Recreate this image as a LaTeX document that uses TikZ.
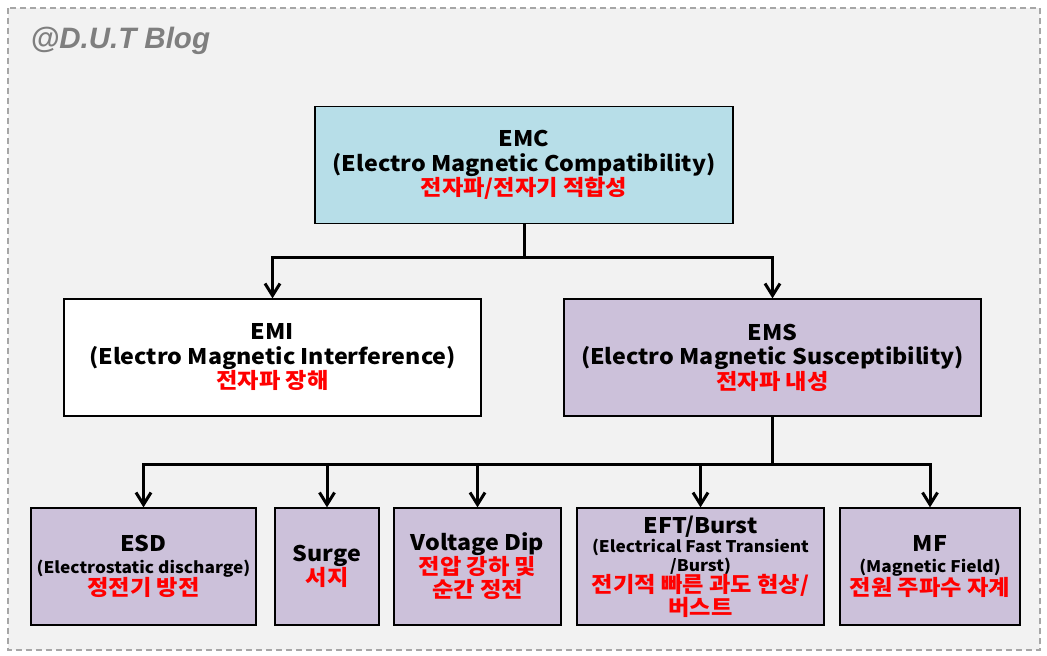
\documentclass[tikz,border=0pt]{standalone}
\usepackage{fontspec}
\setmainfont{Noto Sans CJK KR}[FakeStretch=1.08]
\newfontfamily\blogfont{Liberation Sans}
\usetikzlibrary{positioning, arrows.meta}

\definecolor{emcblue}{HTML}{B7DEE8}
\definecolor{emslilac}{HTML}{CCC1DA}
\definecolor{bggray}{HTML}{F2F2F2}
\definecolor{framegray}{HTML}{A6A6A6}
\definecolor{titlegray}{HTML}{7F7F7F}
\newcommand{\kor}[1]{{\color{red}#1}}
\newcommand{\note}[1]{{\fontsize{16}{18}\selectfont #1}}

\begin{document}
\begin{tikzpicture}[
    x=1pt, y=-1pt,
    box/.style      = {rectangle, draw=black, line width=1.3pt,
                       minimum height=117pt, inner sep=2pt, align=center,
                       font=\bfseries\fontsize{21.5}{24.5}\selectfont},
    topbox/.style   = {box, fill=emcblue, minimum width=418pt},
    midbox/.style   = {box, fill=white, minimum width=417pt},
    susbox/.style   = {box, fill=emslilac, minimum width=417pt},
    leafbox/.style  = {box, fill=emslilac},
    bar/.style      = {line width=3pt},
    conn/.style     = {line width=3pt,
                       -{Straight Barb[length=12pt, width=15pt]}},
    blog/.style     = {anchor=west, text=titlegray,
                       font=\blogfont\bfseries\itshape\fontsize{29.5}{33}\selectfont},
]
\useasboundingbox (0,0) rectangle (1047,656);

%% ============================================================
%% FRAME
%% ============================================================
\draw[framegray, fill=bggray, line width=1.5pt, dash pattern=on 6pt off 4pt]
    (8,8) rectangle (1040,650);
\node[blog] (title) at (27,41) {@D.U.T Blog};

%% ============================================================
%% LAYOUT (top to bottom)
%% ============================================================
\node[topbox] (emc) at (524, 165)
    {EMC\\(Electro Magnetic Compatibility)\\\kor{전자파/전자기 적합성}};

\node[midbox] (emi) at (272.5, 357.5)
    {EMI\\(Electro Magnetic Interference)\\\kor{전자파 장해}};
\node[susbox] (ems) at (772.5, 357.5)
    {EMS\\(Electro Magnetic Susceptibility)\\\kor{전자파 내성}};

%% immunity tests below EMS
\node[leafbox, minimum width=225pt] (esd)   at (143.5, 566.5)
    {ESD\\[-3pt]\note{(Electrostatic discharge)}\\[-2pt]\kor{정전기 방전}};
\node[leafbox, minimum width=104pt] (surge) at (327, 566.5)
    {Surge\\\kor{서지}};
\node[leafbox, minimum width=167pt] (dip)   at (477.5, 566.5)
    {Voltage Dip\\[-1pt]\kor{전압 강하 및}\\[-1pt]\kor{순간 정전}};
\node[leafbox, minimum width=247pt] (eft)   at (700.5, 566.5)
    {EFT/Burst\\[-5pt]\note{(Electrical Fast Transient}\\[-6pt]\note{/Burst)}\\[-3pt]%
     \kor{전기적 빠른 과도 현상/}\\[-2pt]\kor{버스트}};
\node[leafbox, minimum width=180pt] (mf)    at (930, 566.5)
    {MF\\[-3pt]\note{(Magnetic Field)}\\[-2pt]\kor{전원 주파수 자계}};

%% ============================================================
%% CONNECTIONS
%% ============================================================
\coordinate (jTop) at (524, 257);
\draw[bar]  (emc.south) -- (jTop);
\draw[conn] (jTop) -| (emi.north);
\draw[conn] (jTop) -| (ems.north);

\coordinate (jBot) at (772.5, 464);
\draw[bar]  (ems.south) -- (jBot);
\draw[conn] (jBot) -| (esd.north);
\draw[conn] (jBot) -| (surge.north);
\draw[conn] (jBot) -| (dip.north);
\draw[conn] (jBot) -| (eft.north);
\draw[conn] (jBot) -| (mf.north);

\end{tikzpicture}
\end{document}
